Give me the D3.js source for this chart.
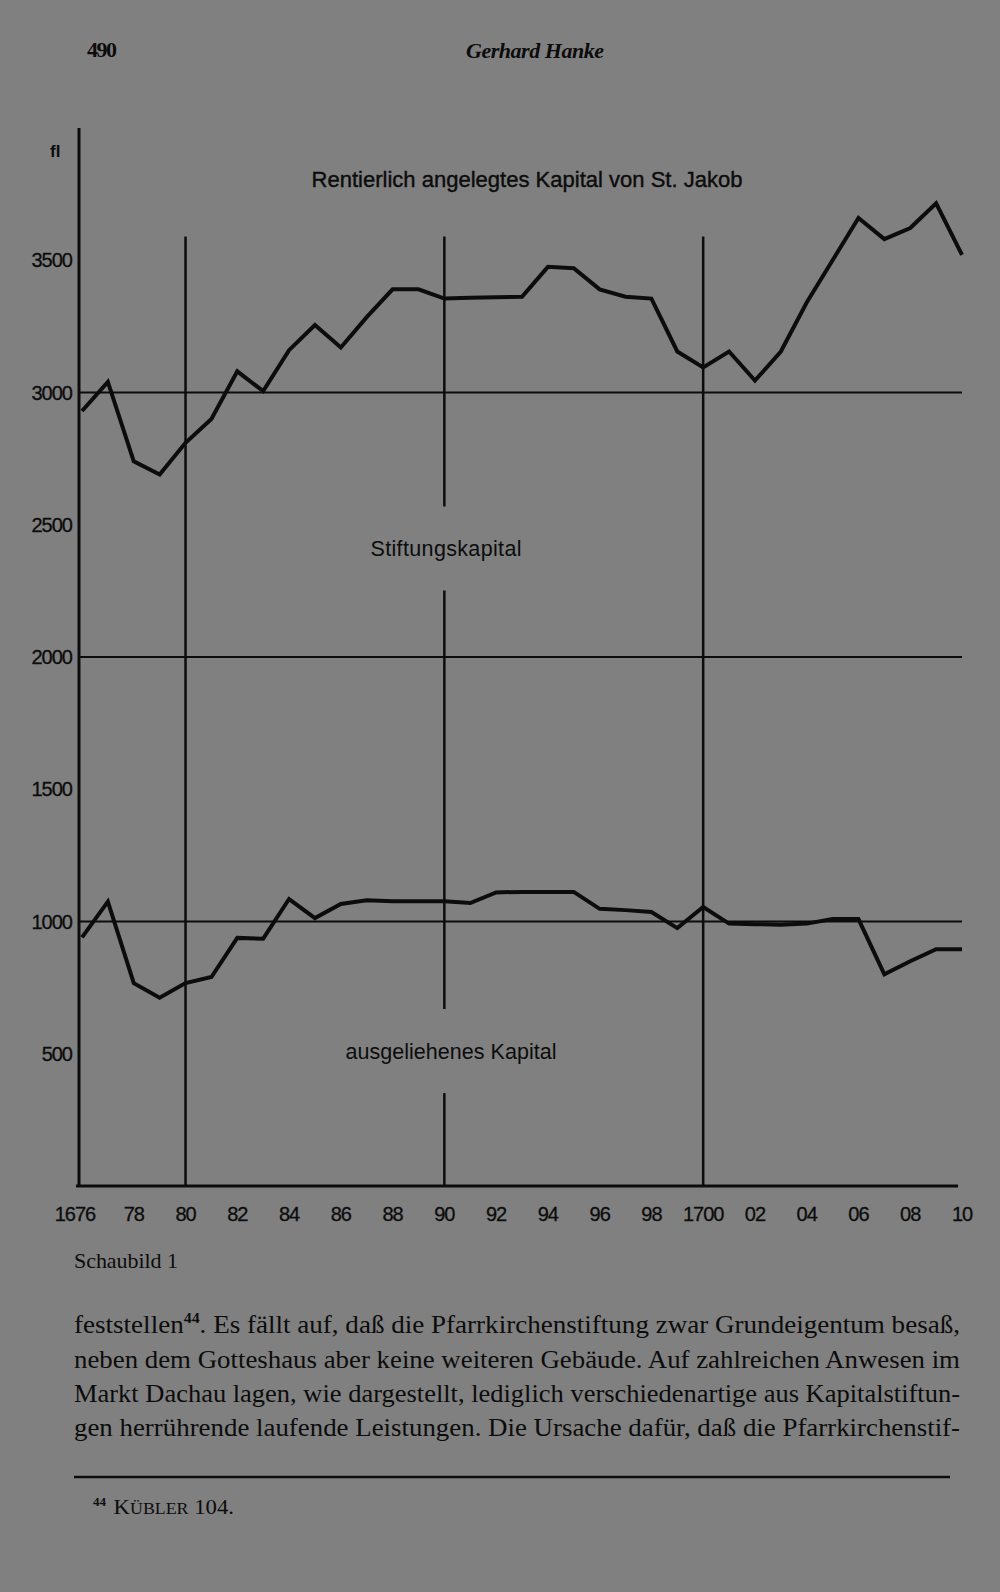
<!DOCTYPE html>
<html>
<head>
<meta charset="utf-8">
<script src="https://cdn.jsdelivr.net/npm/d3@7"></script>
<style>
  html, body { margin: 0; padding: 0; background: #808080; }
  svg { display: block; }
</style>
</head>
<body>
<div id="wrapper"></div>
<script>
// years on the x axis (one point per year)
var years = [1676, 1677, 1678, 1679, 1680, 1681, 1682, 1683, 1684, 1685, 1686, 1687,
  1688, 1689, 1690, 1691, 1692, 1693, 1694, 1695, 1696, 1697, 1698, 1699,
  1700, 1701, 1702, 1703, 1704, 1705, 1706, 1707, 1708, 1709, 1710];

// Rentierlich angelegtes Kapital (fl)
var rentierlich = [2930, 3040, 2740, 2690, 2810, 2900, 3080, 3005, 3160, 3255, 3170, 3285,
  3390, 3390, 3355, 3358, 3360, 3362, 3475, 3470, 3390, 3362, 3355, 3155,
  3095, 3155, 3045, 3155, 3340, 3500, 3660, 3580, 3622, 3715, 3520];

// ausgeliehenes Kapital (fl)
var ausgeliehen = [940, 1075, 767, 712, 767, 790, 938, 935, 1085, 1013, 1066, 1080,
  1077, 1077, 1077, 1070, 1110, 1112, 1112, 1112, 1048, 1043, 1036, 975,
  1055, 992, 990, 988, 992, 1009, 1009, 800, 850, 895, 895];

// Stiftungskapital reference lines
var stiftung = [1000, 2000, 3000];

var yTicks = [500, 1000, 1500, 2000, 2500, 3000, 3500];
var xTickYears = [1676, 1678, 1680, 1682, 1684, 1686, 1688, 1690, 1692, 1694, 1696, 1698,
  1700, 1702, 1704, 1706, 1708, 1710];
var xTickLabels = ["1676", "78", "80", "82", "84", "86", "88", "90", "92", "94", "96", "98",
  "1700", "02", "04", "06", "08", "10"];
var markerYears = [1680, 1690, 1700];

var bodyLines = [
  ["feststellen", "44", ". Es fällt auf, daß die Pfarrkirchenstiftung zwar Grundeigentum besaß,"],
  ["neben dem Gotteshaus aber keine weiteren Gebäude. Auf zahlreichen Anwesen im"],
  ["Markt Dachau lagen, wie dargestellt, lediglich verschiedenartige aus Kapitalstiftun-"],
  ["gen herrührende laufende Leistungen. Die Ursache dafür, daß die Pfarrkirchenstif-"]
];

var width = 1000, height = 1592;
var ink = "#0c0c0c";
var sans = "'Liberation Sans', Arial, sans-serif";
var serif = "'Liberation Serif', 'Times New Roman', serif";

var svg = d3.select("#wrapper").append("svg")
  .attr("width", width)
  .attr("height", height);

svg.append("rect")
  .attr("width", width).attr("height", height)
  .attr("fill", "#808080");

var x = d3.scaleLinear().domain([1676, 1710]).range([82, 962]);
var y = d3.scaleLinear().domain([0, 4000]).range([1186, 128]);

// page header
svg.append("text")
  .attr("x", 87).attr("y", 57)
  .attr("font-family", serif).attr("font-size", 22).attr("font-weight", "bold")
  .attr("fill", ink).attr("letter-spacing", -1.5)
  .text("490");
svg.append("text")
  .attr("x", 535).attr("y", 58)
  .attr("text-anchor", "middle")
  .attr("font-family", serif).attr("font-style", "italic").attr("font-size", 22)
  .attr("font-weight", "bold")
  .attr("fill", ink).attr("textLength", 138)
  .text("Gerhard Hanke");

var chart = svg.append("g");

// Stiftungskapital lines + baseline
chart.selectAll(".grid")
  .data(stiftung)
  .enter().append("line")
  .attr("class", "grid")
  .attr("x1", x(1676) - 2).attr("x2", x(1710))
  .attr("y1", function(d) { return y(d); })
  .attr("y2", function(d) { return y(d); })
  .attr("stroke", ink).attr("stroke-width", 2);

chart.append("line")
  .attr("x1", x(1676) - 6).attr("x2", x(1710) - 4)
  .attr("y1", y(0)).attr("y2", y(0))
  .attr("stroke", ink).attr("stroke-width", 3);

// labels inside the chart
var titleVal = 3805, stiftVal = 2410, ausVal = 510;
chart.append("text")
  .attr("x", 527).attr("y", y(titleVal))
  .attr("dy", "0.35em").attr("text-anchor", "middle")
  .attr("font-family", sans).attr("font-size", 22)
  .attr("textLength", 431).attr("fill", ink)
  .attr("stroke", ink).attr("stroke-width", 0.4)
  .text("Rentierlich angelegtes Kapital von St. Jakob");
chart.append("text")
  .attr("x", 446).attr("y", y(stiftVal))
  .attr("dy", "0.35em").attr("text-anchor", "middle")
  .attr("font-family", sans).attr("font-size", 21.5)
  .attr("textLength", 151).attr("fill", ink)
  .text("Stiftungskapital");
chart.append("text")
  .attr("x", 451).attr("y", y(ausVal))
  .attr("dy", "0.35em").attr("text-anchor", "middle")
  .attr("font-family", sans).attr("font-size", 21.5)
  .attr("textLength", 211).attr("fill", ink)
  .text("ausgeliehenes Kapital");

// vertical marker lines, the 1690 one is broken round the labels
var markerTop = 3590;
markerYears.forEach(function(yr) {
  var segs = [[markerTop, 0]];
  if (yr === 1690) {
    var gap = 42 / 0.2645;
    segs = [[markerTop, stiftVal + gap], [stiftVal - gap, ausVal + gap], [ausVal - gap, 0]];
  }
  segs.forEach(function(s) {
    chart.append("line")
      .attr("x1", x(yr)).attr("x2", x(yr))
      .attr("y1", y(s[0])).attr("y2", y(s[1]))
      .attr("stroke", ink).attr("stroke-width", 2.5);
  });
});

// y axis
chart.append("line")
  .attr("x1", x(1676) - 3).attr("x2", x(1676) - 3)
  .attr("y1", y(4000)).attr("y2", y(0))
  .attr("stroke", ink).attr("stroke-width", 3);

chart.selectAll(".ylab")
  .data(yTicks)
  .enter().append("text")
  .attr("class", "ylab")
  .attr("x", 72)
  .attr("y", function(d) { return y(d); })
  .attr("dy", "0.35em")
  .attr("text-anchor", "end")
  .attr("font-family", sans).attr("font-size", 20)
  .attr("letter-spacing", -1)
  .attr("fill", ink).attr("stroke", ink).attr("stroke-width", 0.3)
  .text(function(d) { return d; });

chart.append("text")
  .attr("x", 50).attr("y", 157)
  .attr("font-family", sans).attr("font-size", 17).attr("font-weight", "bold")
  .attr("fill", ink)
  .text("fl");

chart.selectAll(".xlab")
  .data(xTickYears)
  .enter().append("text")
  .attr("class", "xlab")
  .attr("x", function(d, i) { return x(d) + (i === 0 ? -7 : 0); })
  .attr("y", 1221)
  .attr("text-anchor", "middle")
  .attr("font-family", sans).attr("font-size", 20)
  .attr("letter-spacing", -1)
  .attr("fill", ink).attr("stroke", ink).attr("stroke-width", 0.3)
  .text(function(d, i) { return xTickLabels[i]; });

// data lines
var line = d3.line()
  .x(function(d) { return x(d[0]); })
  .y(function(d) { return y(d[1]); });

[rentierlich, ausgeliehen].forEach(function(series) {
  chart.append("path")
    .datum(years.map(function(yr, i) { return [yr, series[i]]; }))
    .attr("d", line)
    .attr("fill", "none")
    .attr("stroke", ink)
    .attr("stroke-width", 4)
    .attr("stroke-linejoin", "miter");
});

// caption
svg.append("text")
  .attr("x", 74).attr("y", 1268)
  .attr("font-family", serif).attr("font-size", 22)
  .attr("fill", ink).attr("textLength", 104)
  .text("Schaubild 1");

// body text, justified
var lineY = [1333, 1368, 1402, 1436];
bodyLines.forEach(function(parts, i) {
  var t = svg.append("text")
    .attr("x", 74).attr("y", lineY[i])
    .attr("font-family", serif).attr("font-size", 25.5)
    .attr("fill", ink)
    .attr("textLength", 886).attr("lengthAdjust", "spacingAndGlyphs");
  if (parts.length === 1) {
    t.text(parts[0]);
  } else {
    t.append("tspan").text(parts[0]);
    t.append("tspan").attr("font-size", 15).attr("font-weight", "bold").attr("dy", -10).text(parts[1]);
    t.append("tspan").attr("dy", 10).text(parts[2]);
  }
});

// footnote rule
svg.append("line")
  .attr("x1", 74).attr("x2", 950)
  .attr("y1", 1477).attr("y2", 1477)
  .attr("stroke", ink).attr("stroke-width", 2.5);

var fn = svg.append("text")
  .attr("x", 93).attr("y", 1514)
  .attr("font-family", serif).attr("font-size", 21)
  .attr("fill", ink).attr("textLength", 141)
  .attr("lengthAdjust", "spacingAndGlyphs");
fn.append("tspan").attr("font-size", 12).attr("font-weight", "bold").attr("dy", -8).text("44");
fn.append("tspan").attr("dx", 7).attr("dy", 8).text("K");
fn.append("tspan").attr("font-size", 16.5).text("ÜBLER");
fn.append("tspan").text(" 104.");
</script>
</body>
</html>
